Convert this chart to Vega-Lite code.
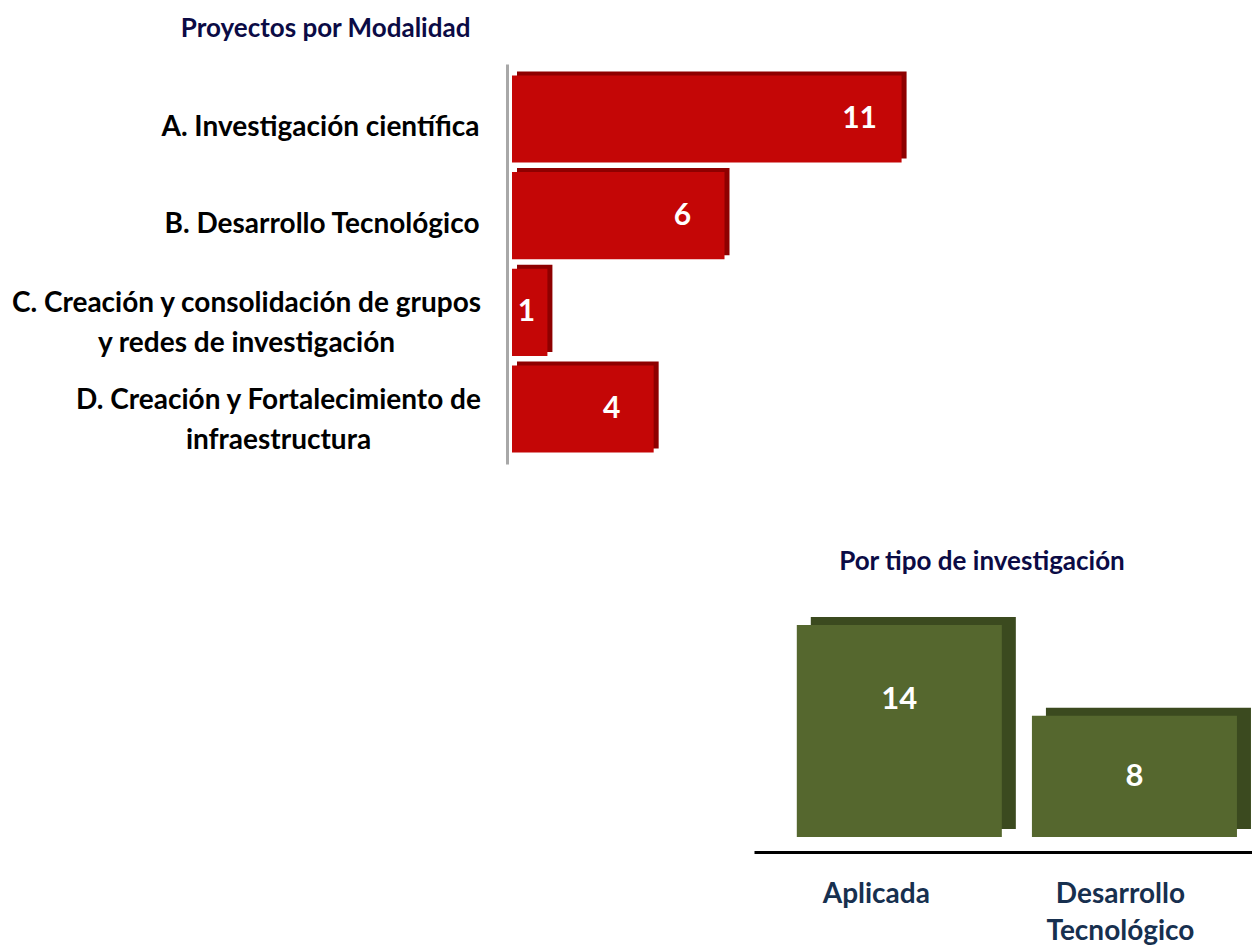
{
  "$schema": "https://vega.github.io/schema/vega-lite/v6.json",
  "padding": {"left": 10, "top": 16, "right": 0, "bottom": 0},
  "background": "white",
  "config": {
    "view": {"stroke": null},
    "font": "Lato"
  },
  "datasets": {
    "modalidad": [
      {"modalidad": "A. Investigación científica", "proyectos": 11},
      {"modalidad": "B. Desarrollo Tecnológico", "proyectos": 6},
      {"modalidad": "C. Creación y consolidación de grupos\ny redes de investigación", "proyectos": 1},
      {"modalidad": "D. Creación y Fortalecimiento de\ninfraestructura", "proyectos": 4}
    ],
    "tipo": [
      {"tipo": "Aplicada", "proyectos": 14},
      {"tipo": "Desarrollo\nTecnológico", "proyectos": 8}
    ]
  },
  "spacing": 85,
  "vconcat": [
    {
      "title": {"text": "Proyectos por Modalidad", "anchor": "start", "frame": "bounds", "dx": 170, "offset": 22, "fontSize": 26, "fontWeight": "bold", "color": "#0B0B45", "font": "Lato"},
      "width": 425,
      "height": 400,
      "data": {"name": "modalidad"},
      "encoding": {
        "y": {
          "field": "modalidad", "type": "nominal", "sort": null,
          "scale": {"paddingInner": 0.1, "paddingOuter": 0.118},
          "axis": {
            "title": null, "ticks": false, "tickSize": 0,
            "domainColor": "#A8A8A8", "domainWidth": 3,
            "labelExpr": "split(datum.label, '\\n')",
            "labelFontSize": 28, "labelFontWeight": "bold", "labelColor": "black", "labelFont": "Lato",
            "labelLineHeight": 40, "labelLimit": 700,
            "labelOffset": {"condition": {"test": "indexof(datum.value, 'C.') == 0 || indexof(datum.value, 'D.') == 0", "value": -8}, "value": 9},
            "labelAlign": {"condition": {"test": "indexof(datum.value, 'C.') == 0 || indexof(datum.value, 'D.') == 0", "value": "center"}, "value": "right"},
            "labelPadding": {"condition": [
              {"test": "indexof(datum.value, 'C.') == 0", "value": 261},
              {"test": "indexof(datum.value, 'D.') == 0", "value": 229}
            ], "value": 28},
            "offset": 5
          }
        }
      },
      "layer": [
        {
          "mark": {"type": "bar", "color": "#8E0000", "xOffset": 5, "yOffset": -4},
          "encoding": {
            "x": {"field": "proyectos", "type": "quantitative", "scale": {"domain": [0, 12], "nice": false}, "axis": null}
          }
        },
        {
          "mark": {"type": "bar", "color": "#C40606"},
          "encoding": {
            "x": {"field": "proyectos", "type": "quantitative"}
          }
        },
        {
          "transform": [{"filter": "datum.proyectos > 1"}],
          "mark": {"type": "text", "color": "white", "fontSize": 30, "fontWeight": "bold", "align": "center", "baseline": "middle", "dx": -42, "font": "Lato"},
          "encoding": {
            "x": {"field": "proyectos", "type": "quantitative"},
            "text": {"field": "proyectos", "type": "quantitative"}
          }
        },
        {
          "transform": [{"filter": "datum.proyectos <= 1"}],
          "mark": {"type": "text", "color": "white", "fontSize": 30, "fontWeight": "bold", "align": "center", "baseline": "middle", "dx": -21, "font": "Lato"},
          "encoding": {
            "x": {"field": "proyectos", "type": "quantitative"},
            "text": {"field": "proyectos", "type": "quantitative"}
          }
        }
      ]
    },
    {
      "spacing": 20,
      "hconcat": [
        {
          "width": 222,
          "height": 10,
          "data": {"values": [{"t": ""}]},
          "mark": {"type": "text", "opacity": 0},
          "encoding": {"text": {"field": "t"}}
        },
        {
          "title": {"text": "Por tipo de investigación", "anchor": "middle", "dx": -21, "offset": 42, "fontSize": 26, "fontWeight": "bold", "color": "#0B0B45", "font": "Lato"},
          "width": 498,
          "height": 212,
          "data": {"name": "tipo"},
          "encoding": {
            "x": {
              "field": "tipo", "type": "nominal", "sort": null,
              "scale": {"paddingInner": 0.128, "paddingOuter": 0.123, "align": 0.74},
              "axis": {
                "title": null, "ticks": false, "labelAngle": 0,
                "domainColor": "black", "domainWidth": 3, "offset": 15,
                "labelExpr": "split(datum.label, '\\n')",
                "labelFontSize": 28, "labelFontWeight": "bold", "labelColor": "#17304F", "labelFont": "Lato",
                "labelLineHeight": 37, "labelPadding": 28, "labelBaseline": "top",
                "labelOffset": {"condition": {"test": "datum.value == 'Aplicada'", "value": -23}, "value": -14}
              }
            }
          },
          "layer": [
            {
              "mark": {"type": "bar", "color": "#3B4A1F", "xOffset": 14, "yOffset": -8},
              "encoding": {
                "y": {"field": "proyectos", "type": "quantitative", "scale": {"domain": [0, 14], "nice": false}, "axis": null}
              }
            },
            {
              "mark": {"type": "bar", "color": "#55672E"},
              "encoding": {
                "y": {"field": "proyectos", "type": "quantitative"}
              }
            },
            {
              "transform": [{"filter": "datum.proyectos > 10"}],
              "mark": {"type": "text", "color": "white", "fontSize": 31, "fontWeight": "bold", "align": "center", "baseline": "middle", "dy": 75, "font": "Lato"},
              "encoding": {
                "y": {"field": "proyectos", "type": "quantitative"},
                "text": {"field": "proyectos", "type": "quantitative"}
              }
            },
            {
              "transform": [{"filter": "datum.proyectos <= 10"}],
              "mark": {"type": "text", "color": "white", "fontSize": 31, "fontWeight": "bold", "align": "center", "baseline": "middle", "dy": 61, "font": "Lato"},
              "encoding": {
                "y": {"field": "proyectos", "type": "quantitative"},
                "text": {"field": "proyectos", "type": "quantitative"}
              }
            }
          ]
        }
      ]
    }
  ]
}
